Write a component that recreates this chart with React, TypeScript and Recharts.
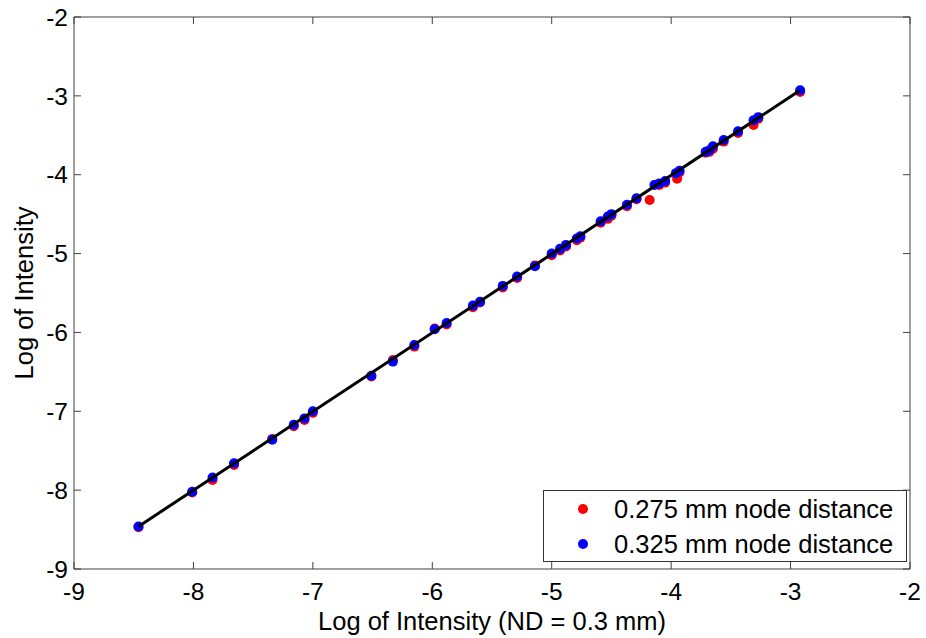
import React from 'react';
import { ScatterChart, Scatter, XAxis, YAxis, Legend } from 'recharts';

const xTicks = [-9, -8, -7, -6, -5, -4, -3, -2];
const yTicks = [-9, -8, -7, -6, -5, -4, -3, -2];

const seriesNames = ['0.275 mm node distance', '0.325 mm node distance'];

const redX = [-8.46, -8.01, -7.84, -7.66, -7.34, -7.16, -7.07, -7.0, -6.51, -6.33, -6.15, -5.98, -5.88, -5.66, -5.6, -5.41, -5.29, -5.14, -5.0, -4.93, -4.88, -4.79, -4.76, -4.59, -4.53, -4.5, -4.37, -4.29, -4.18, -4.1, -4.05, -3.95, -3.93, -3.71, -3.68, -3.65, -3.56, -3.44, -3.31, -3.27, -2.92];
const redY = [-8.47, -8.03, -7.87, -7.68, -7.35, -7.19, -7.11, -7.02, -6.56, -6.35, -6.18, -5.95, -5.9, -5.68, -5.62, -5.43, -5.31, -5.15, -5.02, -4.96, -4.91, -4.83, -4.8, -4.61, -4.56, -4.52, -4.4, -4.31, -4.32, -4.13, -4.1, -4.05, -3.97, -3.72, -3.71, -3.67, -3.58, -3.47, -3.37, -3.29, -2.95];

const blueX = [-8.46, -8.01, -7.84, -7.66, -7.34, -7.16, -7.07, -7.0, -6.51, -6.33, -6.15, -5.98, -5.88, -5.66, -5.6, -5.41, -5.29, -5.14, -5.0, -4.93, -4.88, -4.79, -4.76, -4.59, -4.53, -4.5, -4.37, -4.29, -4.14, -4.1, -4.05, -3.96, -3.93, -3.71, -3.68, -3.65, -3.56, -3.44, -3.31, -3.27, -2.92];
const blueY = [-8.46, -8.02, -7.84, -7.66, -7.36, -7.17, -7.09, -7.0, -6.55, -6.37, -6.16, -5.96, -5.88, -5.66, -5.61, -5.41, -5.29, -5.16, -5.0, -4.94, -4.89, -4.81, -4.78, -4.59, -4.53, -4.5, -4.38, -4.3, -4.13, -4.11, -4.08, -3.98, -3.95, -3.71, -3.69, -3.64, -3.56, -3.45, -3.31, -3.27, -2.93];

const fitX = [-8.46, -2.92];
const fitY = [-8.46, -2.93];

const toPts = (xs: number[], ys: number[]) => xs.map((x, i) => ({ x, y: ys[i] }));
const redData = toPts(redX, redY);
const blueData = toPts(blueX, blueY);
const fitData = toPts(fitX, fitY);

const FONT = '"Liberation Sans", Arial, sans-serif';
const AXIS_COLOR = '#404040';

const dot = (color: string) => (props: any) => (
  <circle cx={props.cx} cy={props.cy} r={5} fill={color} stroke="none" />
);

const LegendBox = () => (
  <div
    style={{
      width: 364,
      height: 72,
      boxSizing: 'border-box',
      border: '1px solid #333',
      background: '#fff',
      fontFamily: FONT,
      fontSize: 25.5,
      color: '#000',
      position: 'relative',
    }}
  >
    {seriesNames.map((name, i) => (
      <div key={name} style={{ position: 'absolute', left: 0, top: 2 + i * 35, height: 32, display: 'flex', alignItems: 'center' }}>
        <span style={{ display: 'inline-block', width: 10, height: 10, borderRadius: 5, background: i === 0 ? '#ff0000' : '#0000ff', marginLeft: 34 }} />
        <span style={{ marginLeft: 26, whiteSpace: 'nowrap' }}>{name}</span>
      </div>
    ))}
  </div>
);

export default function App() {
  const tickStyle = { fill: '#000', fontSize: 24.5, fontFamily: FONT };
  const labelStyle = { fill: '#000', fontSize: 25.5, fontFamily: FONT };
  return (
    <div style={{ position: 'absolute', left: 0, top: 0, background: '#fff' }}>
      <ScatterChart width={926} height={638} margin={{ top: 16, right: 15, left: 0, bottom: 0 }}>
        <XAxis
          xAxisId="bottom"
          type="number"
          dataKey="x"
          domain={[-9, -2]}
          ticks={xTicks}
          height={69}
          tickSize={-7}
          tickMargin={21}
          tick={tickStyle}
          stroke={AXIS_COLOR}
          allowDataOverflow
          label={{ value: 'Log of Intensity (ND = 0.3 mm)', position: 'insideBottom', offset: 8, style: labelStyle }}
        />
        <XAxis
          xAxisId="top"
          orientation="top"
          type="number"
          dataKey="x"
          domain={[-9, -2]}
          ticks={xTicks}
          height={1}
          tickSize={-7}
          tickFormatter={() => ''}
          stroke={AXIS_COLOR}
          allowDataOverflow
        />
        <YAxis
          yAxisId="left"
          type="number"
          dataKey="y"
          domain={[-9, -2]}
          ticks={yTicks}
          width={74}
          tickSize={-7}
          tickMargin={13}
          tick={tickStyle}
          stroke={AXIS_COLOR}
          allowDataOverflow
          label={{ value: 'Log of Intensity', angle: -90, position: 'insideLeft', offset: 24, style: { ...labelStyle, textAnchor: 'middle' } }}
        />
        <YAxis
          yAxisId="right"
          orientation="right"
          type="number"
          dataKey="y"
          domain={[-9, -2]}
          ticks={yTicks}
          width={1}
          tickSize={-7}
          tickFormatter={() => ''}
          stroke={AXIS_COLOR}
          allowDataOverflow
        />
        <Legend
          layout="horizontal"
          verticalAlign="middle"
          align="center"
          content={<LegendBox />}
          wrapperStyle={{ position: 'absolute', left: 543, top: 490, width: 364, height: 72 }}
        />
        <Scatter name={seriesNames[0]} data={redData} xAxisId="bottom" yAxisId="left" shape={dot('#ff0000')} isAnimationActive={false} />
        <Scatter name={seriesNames[1]} data={blueData} xAxisId="bottom" yAxisId="left" shape={dot('#0000ff')} isAnimationActive={false} />
        <Scatter
          name="fit"
          data={fitData}
          xAxisId="bottom"
          yAxisId="left"
          shape={() => <g />}
          line={{ stroke: '#000', strokeWidth: 3 }}
          legendType="none"
          isAnimationActive={false}
        />
      </ScatterChart>
    </div>
  );
}
